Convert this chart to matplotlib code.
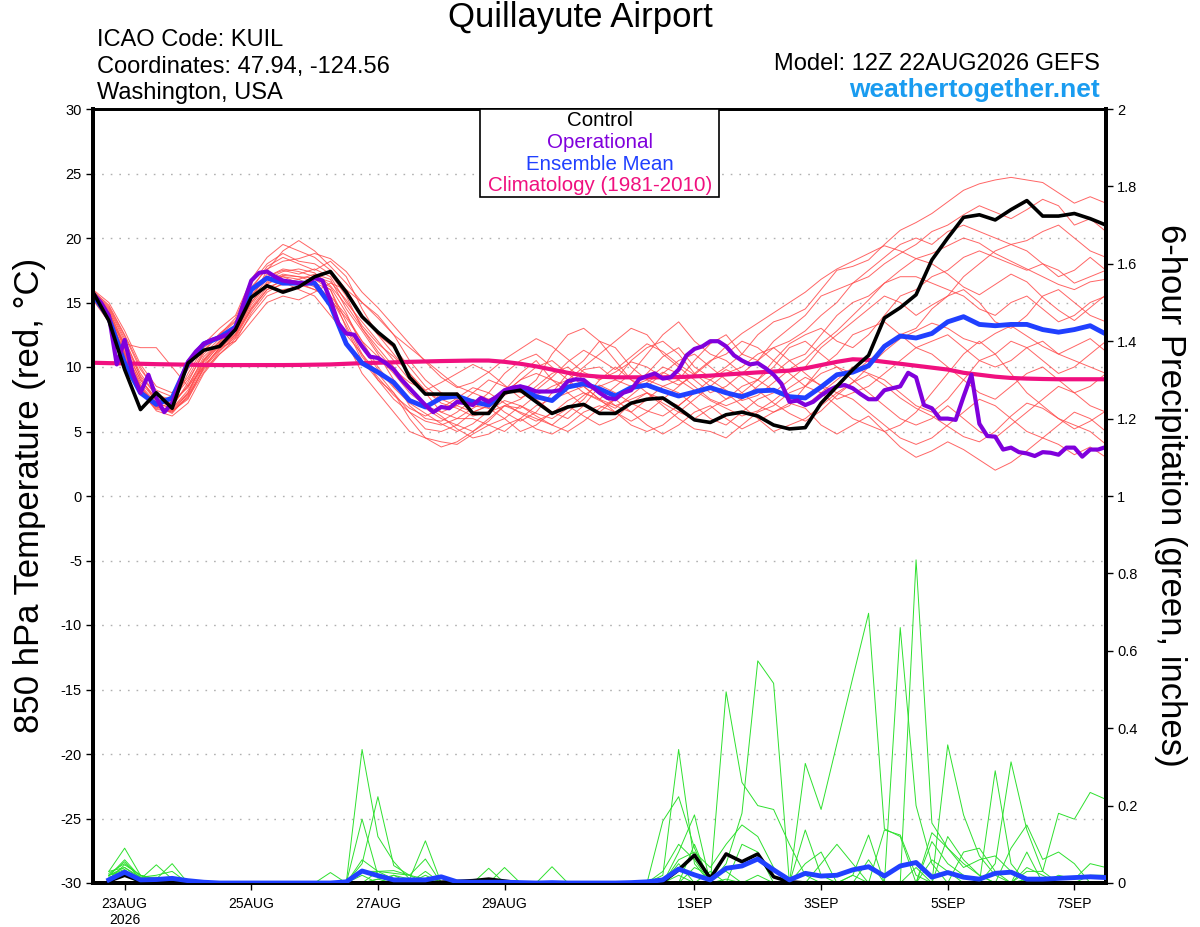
import numpy as np
import matplotlib
matplotlib.use('Agg')
import matplotlib.pyplot as plt
from matplotlib.patches import Rectangle

plt.rcParams['font.family'] = ['Liberation Sans', 'DejaVu Sans']
plt.rcParams['axes.unicode_minus'] = False

# hours after 12Z 22AUG2026, 6-hourly for ensemble, 3-hourly for operational
hours = np.arange(65) * 6
op_hours = np.arange(129) * 3
tick_hours = [12, 60, 108, 156, 228, 276, 324, 372]
tick_labels = ['23AUG\n2026', '25AUG', '27AUG', '29AUG', '1SEP', '3SEP', '5SEP', '7SEP']

# 850 hPa temperature (C)
control = [15.8, 13.6, 9.8, 6.7, 8.0, 6.8, 10.3, 11.3, 11.6, 12.9, 15.4, 16.3, 15.8, 16.2, 17.0, 17.4,
           15.8, 13.9, 12.7, 11.7, 9.2, 7.9, 7.9,
           7.9, 6.4, 6.4, 8.0, 8.2, 7.3, 6.4, 6.9, 7.1, 6.4, 6.4, 7.2, 7.5, 7.6, 6.8, 5.9, 5.7, 6.3,
           6.5, 6.2, 5.5, 5.2,
           5.3, 7.2, 8.5, 9.8, 10.9, 13.8, 14.6, 15.6, 18.3, 20.0, 21.6, 21.8, 21.4, 22.2, 22.9, 21.7,
           21.7, 21.9, 21.5, 21.0]

ens_mean = [15.6, 13.8, 10.3, 8.0, 7.1, 7.6, 10.3, 11.8, 12.3, 13.1, 16.0, 16.9, 16.5, 16.5, 16.5, 14.8,
            11.8, 10.3, 9.6, 8.8, 7.4, 6.9, 7.6,
            7.75, 7.3, 7.05, 8.06, 8.45, 7.7, 7.4, 8.45, 8.7, 8.3, 7.75, 8.4, 8.6, 8.15, 7.75, 8.06,
            8.4, 8.0, 7.7, 8.15, 8.2, 7.7,
            7.6, 8.45, 9.4, 9.6, 10.1, 11.6, 12.4, 12.25, 12.6, 13.5, 13.9, 13.3, 13.2, 13.3, 13.3,
            12.9, 12.7, 12.9, 13.2, 12.55]

climo = [10.33, 10.3, 10.28, 10.25, 10.22, 10.2, 10.18, 10.16, 10.15, 10.15, 10.15,
         10.15, 10.15, 10.16, 10.18, 10.2, 10.25, 10.3, 10.33, 10.36, 10.4, 10.43,
         10.46, 10.48, 10.5, 10.5, 10.4, 10.25, 10.05, 9.8, 9.55, 9.35, 9.25,
         9.2, 9.2, 9.2, 9.2, 9.22, 9.27, 9.33, 9.42, 9.5, 9.58, 9.65,
         9.72, 9.9, 10.15, 10.4, 10.6, 10.55, 10.4, 10.25, 10.1, 9.95, 9.8,
         9.55, 9.4, 9.25, 9.15, 9.1, 9.07, 9.05, 9.05, 9.05, 9.05]

operational = [15.7, 15.0, 14.0, 10.2, 12.1, 9.5, 8.0, 9.4, 7.6, 6.5, 7.2, 8.9, 10.4, 11.2, 11.8,
               12.1, 12.3, 12.5, 13.0, 14.9, 16.7, 17.3, 17.4, 17.0, 16.7, 16.6, 16.5, 16.5, 16.9,
               16.7, 15.2, 13.4, 12.6, 12.5, 11.6, 10.8, 10.7, 10.3, 9.8, 9.0, 8.35, 7.7, 7.05, 6.5,
               6.9,
               6.8, 7.3, 7.2, 7.05, 7.6, 7.3, 7.7, 8.2, 8.4, 8.5, 8.35, 8.1, 8.1, 8.1, 8.2, 8.9, 9.05,
               9.0, 8.5, 8.0, 7.6, 7.5, 8.0, 8.2, 9.05, 9.3, 9.5, 9.1, 9.2, 9.8, 10.9, 11.4, 11.6,
               12.0, 12.0, 11.6, 10.9, 10.5, 10.2, 10.3, 9.9, 9.4, 8.7, 7.3,
               7.4, 7.05, 7.3, 7.8, 8.2, 8.5, 8.6, 8.35, 7.9, 7.5, 7.5, 8.2, 8.35, 8.5, 9.55, 9.2,
               7.05, 6.8, 6.0, 6.0, 5.9, 7.7, 9.4, 5.6, 4.65, 4.6, 3.6, 3.75, 3.4, 3.3, 3.1, 3.4,
               3.35, 3.2, 3.75, 3.75, 3.05, 3.6, 3.6, 3.8]

# ensemble members
m1 = [15.6, 14.2, 11.5, 9.0, 7.5, 7.2, 8.5, 10.8, 12.0, 13.0, 15.5, 17.0, 17.5, 17.2, 17.6, 17.0,
      15.0, 13.5, 12.0, 10.5, 9.0, 8.0, 7.5, 8.0, 7.0, 6.8, 8.2, 9.5, 10.5, 9.0, 8.5, 9.8, 10.0,
      9.0, 8.5, 9.5, 10.8, 11.5, 10.0, 9.2, 10.0, 11.0, 12.5, 13.5, 13.9, 14.5, 16.0, 17.5, 17.8,
      18.3, 19.5, 20.6, 21.2, 21.9, 22.8, 23.7, 24.2, 24.5, 24.7, 24.5, 24.3, 23.5, 22.7, 23.2, 22.7]
m2 = [15.9, 14.8, 12.5, 10.0, 8.0, 7.0, 9.5, 11.5, 12.5, 13.5, 16.0, 17.8, 18.5, 18.0, 17.5, 18.2,
      17.0, 14.5, 12.5, 11.0, 9.5, 8.0, 6.5, 6.0, 6.8, 7.5, 6.5, 5.8, 6.5, 8.0, 9.5, 10.5, 12.0,
      11.5, 10.0, 9.0, 8.5, 9.0, 10.5, 11.8, 12.5, 11.0, 10.5, 11.5, 12.0, 12.8, 14.0, 15.0, 16.5,
      17.0, 18.0, 18.8, 19.5, 20.5, 21.0, 21.8, 22.5, 22.0, 21.5, 22.2, 23.0, 22.5, 21.0, 21.5, 20.5]
m3 = [15.5, 14.0, 11.0, 8.5, 7.0, 6.6, 7.5, 10.0, 11.5, 12.5, 14.5, 16.0, 16.8, 16.5, 16.8, 16.0,
      13.0, 10.5, 9.0, 8.0, 6.5, 5.2, 5.0, 5.5, 6.5, 7.0, 7.8, 8.5, 7.5, 6.5, 6.0, 7.0, 8.5,
      9.0, 10.5, 11.5, 12.0, 11.0, 9.5, 8.5, 7.5, 8.0, 9.0, 10.5, 11.8, 12.5, 13.0, 12.0, 11.5,
      12.5, 14.0, 15.5, 16.0, 17.0, 17.5, 18.5, 19.0, 18.5, 18.0, 17.5, 18.0, 17.5, 16.5, 17.0, 17.5]
m4 = [15.2, 13.5, 10.5, 8.0, 6.8, 6.5, 8.0, 10.5, 11.8, 12.8, 15.0, 16.5, 17.0, 16.8, 16.2, 15.0,
      12.0, 9.5, 8.0, 6.5, 5.0, 4.5, 4.2, 4.0, 4.8, 5.5, 6.0, 7.0, 6.2, 5.5, 5.0, 5.8, 6.8,
      7.5, 6.5, 5.5, 4.8, 5.5, 6.5, 7.0, 6.0, 5.2, 5.8, 6.5, 7.2, 6.8, 5.5, 4.8, 5.5,
      6.2, 5.0, 3.8, 3.0, 3.5, 4.2, 3.6, 2.8, 2.0, 2.6, 3.5, 4.5, 4.0, 3.2, 3.8, 3.0]
m5 = [15.7, 14.5, 12.0, 9.5, 7.8, 7.5, 9.0, 11.0, 12.2, 13.2, 15.8, 17.2, 17.0, 16.5, 16.0, 15.5,
      14.0, 12.0, 10.0, 8.5, 7.5, 6.8, 6.0, 5.5, 5.0, 5.8, 7.0, 7.5, 8.5, 9.5, 10.0, 9.0, 8.0,
      7.0, 6.5, 7.5, 8.5, 8.0, 7.0, 6.0, 5.5, 6.5, 7.5, 8.0, 9.0, 10.0, 11.5, 12.5, 13.5,
      14.5, 15.5, 15.0, 14.0, 14.8, 15.5, 16.0, 15.0, 13.5, 13.0, 14.0, 15.5, 16.0, 15.0, 14.0, 13.5]
m6 = [15.4, 13.8, 11.8, 11.5, 11.5, 10.0, 8.5, 10.0, 11.5, 12.0, 13.5, 15.0, 15.5, 15.2, 15.8, 16.5,
      16.0, 15.0, 14.0, 12.5, 11.5, 10.5, 9.5, 8.5, 8.0, 7.5, 8.0, 9.0, 10.0, 10.5, 9.5, 8.5, 7.5,
      7.0, 7.5, 8.0, 7.2, 6.5, 6.0, 6.8, 7.5, 8.5, 9.0, 8.2, 7.5, 7.0, 8.0, 9.0, 10.0,
      9.5, 9.0, 8.0, 7.0, 6.5, 7.5, 9.0, 10.5, 11.0, 12.0, 11.5, 10.5, 9.5, 10.0, 11.0, 12.0]
m7 = [15.8, 14.6, 12.2, 9.2, 7.2, 6.8, 8.2, 10.2, 11.8, 12.8, 15.2, 17.5, 19.0, 19.8, 19.0, 17.8,
      16.5, 15.0, 13.8, 12.5, 10.5, 9.0, 8.0, 7.5, 7.0, 8.0, 9.5, 10.5, 11.0, 10.0, 9.0, 8.0, 7.5,
      8.5, 9.5, 11.0, 12.5, 13.5, 12.0, 11.0, 10.5, 9.5, 9.0, 10.0, 11.5, 12.0, 11.0, 10.0, 9.5,
      10.5, 11.5, 12.5, 13.0, 14.5, 15.5, 17.0, 18.0, 19.0, 19.5, 19.0, 18.0, 17.0, 17.5, 18.5, 17.5]
m8 = [15.3, 13.5, 10.8, 8.2, 6.6, 6.2, 7.2, 9.5, 11.0, 12.0, 14.2, 15.8, 16.5, 16.8, 17.2, 16.8,
      14.5, 12.8, 11.0, 9.0, 7.0, 6.0, 5.8, 6.5, 7.5, 6.8, 6.0, 5.0, 5.5, 6.5, 7.0, 6.2, 5.5,
      6.0, 7.2, 8.0, 7.0, 6.0, 5.2, 5.0, 4.5, 5.5, 6.5, 7.0, 8.0, 8.5, 9.5, 10.0, 9.0,
      8.0, 7.0, 6.0, 5.5, 6.0, 7.0, 6.0, 5.0, 4.5, 5.5, 6.5, 7.5, 8.5, 8.0, 7.0, 6.5]
m9 = [15.6, 14.0, 11.2, 8.8, 7.4, 6.9, 8.8, 11.2, 12.5, 13.8, 16.5, 18.0, 18.8, 18.2, 18.0, 17.2,
      15.5, 13.0, 11.5, 10.0, 8.5, 7.0, 6.5, 7.0, 8.0, 9.0, 8.5, 8.0, 9.0, 11.0, 12.5, 13.0, 12.0,
      10.5, 9.0, 8.5, 9.5, 10.5, 11.0, 10.0, 9.0, 8.0, 7.0, 6.5, 7.0, 8.5, 10.0, 11.0, 12.5,
      13.0, 13.5, 12.5, 11.5, 11.0, 10.0, 9.0, 8.0, 7.5, 8.5, 9.5, 10.0, 9.0, 8.0, 8.5, 9.5]
m10 = [15.5, 13.8, 11.0, 8.5, 7.0, 6.4, 7.8, 9.8, 11.0, 12.2, 14.0, 15.5, 16.0, 16.2, 16.5, 16.0,
       13.5, 11.0, 9.5, 8.0, 6.0, 4.5, 3.8, 4.2, 5.0, 6.0, 7.0, 6.5, 6.0, 5.5, 6.5, 7.5, 9.0,
       10.0, 9.0, 8.0, 7.5, 7.0, 8.0, 8.5, 8.0, 7.0, 6.0, 5.0, 5.5, 6.0, 7.0, 8.0, 7.5,
       6.5, 5.5, 4.5, 4.0, 4.5, 5.5, 6.5, 7.5, 7.0, 6.0, 5.0, 4.5, 5.5, 6.5, 6.0, 5.0]
m11 = [16.0, 15.0, 12.8, 10.2, 8.5, 8.0, 9.8, 11.8, 13.0, 14.0, 16.8, 18.5, 19.5, 19.0, 18.5, 17.5,
       16.0, 14.0, 12.5, 11.5, 10.0, 8.5, 7.5, 7.0, 6.5, 7.0, 8.0, 9.0, 9.5, 9.0, 8.0, 7.0, 6.5,
       7.5, 8.5, 9.0, 10.0, 9.5, 8.5, 7.5, 7.0, 7.5, 8.5, 9.5, 10.5, 11.0, 12.5, 14.0, 15.0,
       15.5, 16.5, 17.0, 17.0, 16.5, 16.0, 15.5, 14.5, 14.0, 15.0, 15.5, 14.5, 13.5, 14.0, 15.0, 15.5]
m12 = [15.4, 13.6, 10.6, 8.0, 6.7, 6.6, 7.6, 9.6, 11.2, 12.4, 14.6, 16.2, 16.6, 16.0, 15.5, 14.0,
       12.5, 11.0, 9.0, 7.5, 6.5, 5.8, 5.5, 6.0, 6.0, 5.5, 5.0, 6.0, 7.0, 7.5, 8.0, 8.5, 7.5,
       6.5, 5.5, 5.0, 5.5, 6.5, 7.5, 8.5, 9.5, 10.0, 11.0, 11.5, 10.5, 9.5, 8.5, 7.5, 8.0,
       8.5, 9.5, 10.5, 11.5, 12.0, 12.5, 11.5, 10.5, 10.0, 10.5, 11.5, 12.0, 11.0, 10.5, 10.0, 9.5]
m13 = [15.8, 14.4, 11.6, 9.0, 7.6, 7.0, 8.6, 10.6, 12.0, 13.2, 15.6, 17.0, 17.6, 17.4, 17.0, 16.6,
       15.2, 13.2, 11.8, 10.8, 9.5, 8.2, 7.2, 6.8, 6.2, 6.5, 7.0, 6.8, 7.8, 8.5, 9.0, 10.0, 11.0,
       12.0, 13.0, 12.5, 11.0, 10.0, 9.0, 8.0, 8.5, 9.5, 10.5, 12.0, 13.0, 14.0, 15.5, 16.0, 16.5,
       17.5, 18.5, 19.5, 20.0, 19.5, 20.5, 21.0, 20.5, 20.0, 19.5, 19.8, 20.5, 21.0, 20.0, 19.0, 18.5]
m14 = [15.6, 14.2, 11.4, 8.6, 7.2, 6.8, 8.0, 10.4, 11.6, 12.6, 15.0, 16.6, 17.2, 17.0, 16.6, 15.2,
       13.8, 12.0, 10.8, 9.5, 8.0, 7.0, 6.2, 5.2, 4.5, 4.8, 5.5, 6.0, 5.2, 4.8, 5.5, 6.5, 7.0,
       6.5, 5.8, 6.5, 7.5, 8.5, 9.5, 10.5, 11.0, 12.0, 11.5, 10.5, 9.5, 8.5, 8.0, 7.0, 6.0,
       5.5, 5.0, 5.5, 6.5, 8.0, 9.5, 11.0, 12.0, 11.0, 9.5, 8.0, 7.0, 6.0, 5.5, 5.0, 4.0]
m15 = [15.7, 14.3, 11.8, 9.3, 7.8, 7.3, 8.4, 10.5, 11.9, 13.0, 15.3, 16.8, 17.4, 17.6, 17.3, 16.3,
       14.8, 13.0, 11.2, 9.8, 8.8, 8.2, 8.8, 9.5, 10.2, 9.6, 8.6, 7.6, 8.2, 9.2, 10.4, 11.3, 10.6,
       9.8, 10.8, 11.8, 11.2, 10.2, 9.4, 9.0, 8.2, 7.4, 7.8, 8.8, 9.8, 10.6, 11.8, 12.8, 14.0,
       15.2, 16.5, 17.5, 18.4, 18.0, 17.2, 16.2, 15.6, 16.4, 17.2, 16.6, 15.4, 14.4, 13.6, 14.6, 15.6]
m16 = [15.3, 13.7, 10.9, 8.3, 6.9, 6.7, 7.9, 10.1, 11.4, 12.5, 14.8, 16.4, 17.1, 17.0, 16.9, 16.2,
       14.2, 11.6, 9.8, 8.4, 7.2, 6.4, 5.6, 5.0, 5.6, 6.6, 7.4, 7.0, 6.4, 6.0, 6.8, 7.8, 8.6,
       8.0, 7.2, 6.6, 6.2, 7.0, 8.0, 9.0, 9.8, 9.2, 8.2, 7.2, 6.4, 5.8, 6.6, 7.8, 8.8,
       9.4, 8.6, 7.6, 6.8, 6.2, 5.4, 4.6, 4.2, 5.0, 6.2, 7.2, 6.8, 6.0, 5.2, 5.8, 6.6]
m17 = [15.9, 14.7, 12.4, 9.8, 8.2, 7.7, 9.2, 11.3, 12.6, 13.6, 16.2, 17.6, 18.2, 18.4, 18.8, 18.4,
       17.4, 15.8, 14.6, 13.2, 11.8, 10.4, 9.2, 8.4, 8.8, 9.6, 10.6, 11.4, 12.2, 11.6, 10.6, 9.6, 9.0,
       9.6, 10.4, 10.0, 9.2, 8.6, 9.4, 10.4, 11.6, 12.6, 13.4, 14.2, 15.0, 15.8, 16.8, 17.6, 18.2,
       18.8, 19.4, 19.0, 18.4, 18.8, 19.4, 20.0, 19.6, 18.8, 18.2, 17.6, 17.0, 16.4, 16.0, 16.6, 16.8]
m18 = [15.5, 13.9, 11.1, 8.4, 6.9, 6.5, 7.7, 9.9, 11.3, 12.3, 14.4, 16.0, 16.4, 16.4, 16.0, 15.4,
       13.2, 10.8, 9.2, 7.8, 6.8, 6.2, 6.8, 7.6, 8.4, 8.0, 7.2, 6.4, 5.8, 6.4, 7.4, 8.0, 7.4,
       6.8, 7.8, 8.8, 9.6, 9.0, 8.2, 7.4, 6.8, 6.2, 6.6, 7.4, 8.4, 9.2, 8.6, 8.0, 8.8,
       10.0, 11.2, 12.2, 12.8, 13.4, 13.0, 12.2, 11.8, 12.6, 13.2, 12.4, 11.6, 11.0, 11.6, 12.2, 11.2]
members_t = [m1, m2, m3, m4, m5, m6, m7, m8, m9, m10, m11, m12, m13, m14, m15, m16, m17, m18]

# 6-hour precipitation (inches), valid from +6h to +384h
precip_mean = [0.008, 0.028, 0.008, 0.009, 0.012, 0.006, 0.002, 0,
               0, 0, 0, 0, 0, 0, 0, 0.003,
               0.031, 0.019, 0.008, 0.008, 0.008, 0.016, 0.003, 0.002,
               0.002, 0.002, 0.001, 0, 0.001, 0, 0, 0,
               0, 0.001, 0.003, 0.008, 0.036, 0.021, 0.008, 0.038,
               0.044, 0.062, 0.034, 0.008, 0.025, 0.018, 0.020, 0.034,
               0.042, 0.018, 0.044, 0.053, 0.015, 0.027, 0.015, 0.010,
               0.025, 0.028, 0.010, 0.010, 0.012, 0.014, 0.016, 0.014]
precip_control = [0.005, 0.02, 0.005, 0.003, 0.002, 0, 0, 0,
                  0, 0, 0, 0, 0, 0, 0, 0,
                  0, 0, 0, 0, 0, 0.002, 0.004, 0.006,
                  0.01, 0.005, 0, 0, 0, 0, 0, 0,
                  0, 0, 0, 0.003, 0.034, 0.072, 0.012, 0.075,
                  0.055, 0.075, 0.016, 0.003, 0, 0, 0, 0,
                  0, 0, 0, 0, 0, 0, 0, 0,
                  0, 0, 0, 0, 0, 0, 0, 0]
g1 = [0.03, 0.09, 0.02, 0.01, 0, 0, 0, 0,
      0, 0, 0, 0, 0, 0, 0, 0,
      0.345, 0.12, 0.055, 0.01, 0, 0, 0, 0,
      0, 0, 0, 0, 0, 0, 0, 0,
      0, 0, 0, 0.02, 0.345, 0.05, 0, 0.01,
      0, 0.02, 0, 0, 0.137, 0.02, 0, 0,
      0, 0, 0, 0.835, 0.155, 0.09, 0.05, 0.02,
      0, 0, 0.01, 0, 0, 0, 0, 0]
g2 = [0.02, 0.055, 0.01, 0.047, 0.01, 0, 0, 0,
      0, 0, 0, 0, 0, 0, 0, 0,
      0.05, 0.223, 0.045, 0.02, 0.01, 0, 0, 0,
      0.038, 0, 0, 0, 0, 0, 0, 0,
      0, 0, 0, 0.16, 0.223, 0.09, 0, 0,
      0, 0, 0, 0, 0.309, 0.19, 0.36, 0.53,
      0.697, 0.14, 0.12, 0, 0, 0, 0, 0,
      0, 0, 0, 0, 0, 0, 0, 0]
g3 = [0.01, 0.047, 0.02, 0.01, 0.05, 0, 0, 0,
      0, 0, 0, 0, 0, 0, 0, 0,
      0.165, 0.02, 0, 0.01, 0.109, 0, 0, 0,
      0, 0, 0, 0, 0.042, 0, 0, 0,
      0, 0, 0, 0, 0.08, 0.176, 0, 0.494,
      0.26, 0.2, 0.19, 0.1, 0.02, 0, 0, 0,
      0, 0, 0.66, 0.2, 0.05, 0, 0, 0,
      0, 0, 0, 0, 0, 0, 0, 0]
g4 = [0.02, 0.03, 0.01, 0, 0, 0, 0, 0,
      0, 0, 0, 0, 0, 0, 0, 0,
      0, 0.03, 0.032, 0.02, 0.062, 0, 0, 0,
      0, 0, 0, 0, 0, 0, 0, 0,
      0, 0, 0, 0, 0.02, 0, 0, 0.05,
      0.18, 0.574, 0.516, 0, 0, 0, 0, 0.02,
      0.124, 0, 0, 0, 0, 0.357, 0.176, 0.07,
      0.02, 0, 0, 0, 0, 0, 0, 0]
g5 = [0.03, 0.04, 0.015, 0.02, 0.03, 0, 0, 0,
      0, 0, 0, 0, 0, 0, 0.027, 0,
      0, 0, 0.02, 0.01, 0, 0, 0, 0,
      0, 0, 0, 0, 0, 0, 0, 0,
      0, 0, 0, 0, 0.05, 0, 0, 0,
      0, 0, 0, 0, 0, 0, 0, 0.02,
      0, 0.137, 0.124, 0.02, 0, 0, 0, 0,
      0.29, 0.05, 0, 0, 0, 0, 0, 0]
g6 = [0.01, 0.03, 0, 0, 0, 0, 0, 0,
      0, 0, 0, 0, 0, 0, 0, 0,
      0.03, 0.03, 0.025, 0.02, 0, 0, 0, 0,
      0, 0.04, 0, 0, 0, 0, 0, 0,
      0, 0, 0, 0, 0, 0, 0, 0,
      0, 0, 0, 0, 0, 0, 0, 0,
      0, 0, 0, 0, 0.107, 0.05, 0.02, 0,
      0.05, 0.313, 0.137, 0.03, 0, 0, 0, 0]
g7 = [0.02, 0.035, 0, 0, 0, 0, 0, 0,
      0, 0, 0, 0, 0, 0, 0, 0,
      0.02, 0, 0, 0, 0, 0, 0, 0,
      0, 0, 0, 0, 0, 0, 0, 0,
      0, 0, 0, 0, 0, 0, 0, 0,
      0, 0, 0, 0, 0, 0.05, 0.1, 0.05,
      0, 0, 0, 0, 0, 0, 0, 0,
      0, 0, 0.03, 0.03, 0.18, 0.165, 0.234, 0.216]
g8 = [0.015, 0.025, 0.01, 0, 0, 0, 0, 0,
      0, 0, 0, 0, 0, 0, 0, 0,
      0, 0, 0, 0, 0.02, 0, 0, 0,
      0, 0, 0, 0, 0, 0, 0, 0,
      0, 0, 0, 0, 0, 0.1, 0, 0,
      0, 0, 0, 0, 0, 0, 0, 0,
      0, 0, 0, 0, 0, 0, 0, 0,
      0, 0.09, 0.15, 0.061, 0.08, 0.05, 0, 0]
g9 = [0.025, 0.05, 0.02, 0, 0, 0, 0, 0,
      0, 0, 0, 0, 0, 0, 0, 0,
      0, 0.01, 0.02, 0, 0, 0, 0, 0,
      0, 0, 0, 0, 0, 0, 0, 0,
      0, 0, 0, 0, 0.06, 0.08, 0.04, 0.1,
      0.15, 0.12, 0.04, 0, 0, 0, 0, 0,
      0.06, 0, 0, 0, 0.06, 0.03, 0, 0,
      0, 0, 0.04, 0.02, 0, 0, 0, 0]
g10 = [0.02, 0.04, 0.01, 0, 0, 0, 0, 0,
       0, 0, 0, 0, 0, 0, 0, 0,
       0, 0, 0, 0, 0.01, 0, 0, 0,
       0, 0, 0, 0, 0, 0, 0, 0,
       0, 0, 0, 0.03, 0.1, 0.06, 0, 0,
       0.1, 0.08, 0, 0, 0, 0, 0, 0,
       0, 0, 0, 0.04, 0, 0.12, 0.06, 0.02,
       0, 0, 0.08, 0, 0, 0, 0, 0]
g11 = [0.01, 0.02, 0, 0, 0, 0, 0, 0,
       0, 0, 0, 0, 0, 0, 0, 0,
       0, 0.01, 0, 0, 0, 0, 0, 0,
       0, 0, 0, 0, 0, 0, 0, 0,
       0, 0, 0, 0, 0, 0.04, 0.02, 0.03,
       0, 0, 0, 0, 0.05, 0.08, 0, 0,
       0, 0, 0, 0, 0, 0, 0.08, 0.09,
       0.03, 0, 0, 0, 0, 0, 0.02, 0.02]
g12 = [0.018, 0.06, 0.015, 0.015, 0.01, 0, 0, 0,
       0, 0, 0, 0, 0, 0, 0, 0,
       0.06, 0.03, 0.01, 0, 0.03, 0, 0, 0,
       0, 0, 0, 0, 0, 0, 0, 0,
       0, 0, 0, 0, 0, 0, 0.03, 0,
       0, 0, 0, 0, 0, 0, 0, 0,
       0, 0, 0, 0, 0.13, 0.09, 0.04, 0.06,
       0.07, 0.03, 0, 0, 0.02, 0.01, 0.05, 0.04]
members_p = [g1, g2, g3, g4, g5, g6, g7, g8, g9, g10, g11, g12]

W, H = 1200, 927
fig = plt.figure(figsize=(W / 100, H / 100), dpi=100)
fig.patch.set_facecolor('white')
ax = fig.add_axes([93 / W, 44 / H, 1013 / W, 774 / H])
ax2 = ax.twinx()

# temperature
for y in range(-25, 30, 5):
    ax.axhline(y, color='#b0b0b0', lw=1.0, ls=(0, (1.2, 5)), zorder=0)
for m in members_t:
    ax.plot(hours, m, color='#ff4a4a', lw=0.7, alpha=0.85, zorder=1)
ax.plot(hours, climo, color='#f0107f', lw=3, zorder=3)
ax.plot(hours, ens_mean, color='#2040ff', lw=3.5, zorder=4)
ax.plot(op_hours, operational, color='#8000dc', lw=3, zorder=5)
ax.plot(hours, control, color='black', lw=2.6, zorder=6)

ax.set_xlim(0, 384)
ax.set_ylim(-30, 30)
ax.set_yticks(range(-30, 31, 5))
ax.set_xticks(tick_hours)
ax.set_xticklabels(tick_labels)
ax.tick_params(axis='y', direction='out', length=5, width=1, labelsize=10.5, pad=3)
ax.tick_params(axis='x', direction='out', length=5, width=1, labelsize=10, pad=5)

# precipitation
for g in members_p:
    ax2.plot(hours[1:], g, color='#2ee02e', lw=0.7, zorder=1)
ax2.plot(hours[1:], precip_control, color='black', lw=2.6, zorder=3)
ax2.plot(hours[1:], precip_mean, color='#2040ff', lw=3.5, zorder=4)
ax2.set_ylim(0, 2)
ax2.set_xlim(0, 384)
p_ticks = [0, 0.2, 0.4, 0.6, 0.8, 1, 1.2, 1.4, 1.6, 1.8, 2]
ax2.set_yticks(p_ticks)
ax2.set_yticklabels(['0', '0.2', '0.4', '0.6', '0.8', '1', '1.2', '1.4', '1.6', '1.8', '2'])
ax2.tick_params(axis='y', direction='out', length=5, width=1, labelsize=10.5, pad=3)

for a in (ax, ax2):
    a.spines['left'].set_linewidth(2.8)
    a.spines['bottom'].set_linewidth(2.8)
    a.spines['right'].set_linewidth(2.8)
    a.spines['top'].set_linewidth(2.0)

# axis labels
fig.text(30 / W, 1 - 495 / H, '850 hPa Temperature (red, °C)', rotation=90,
         ha='center', va='center', fontsize=25)
fig.text(1170 / W, 1 - 495 / H, '6-hour Precipitation (green, inches)', rotation=270,
         ha='center', va='center', fontsize=25)

# header
fig.text(580 / W, 1 - 18 / H, 'Quillayute Airport', ha='center', va='center', fontsize=25)
fig.text(97 / W, 1 - 40 / H, 'ICAO Code: KUIL', va='center', fontsize=17)
fig.text(97 / W, 1 - 67 / H, 'Coordinates: 47.94, -124.56', va='center', fontsize=17)
fig.text(97 / W, 1 - 93 / H, 'Washington, USA', va='center', fontsize=17)
fig.text(1100 / W, 1 - 64 / H, 'Model: 12Z 22AUG2026 GEFS', ha='right', va='center', fontsize=17)
fig.text(1100 / W, 1 - 90 / H, 'weathertogether.net', ha='right', va='center', fontsize=19,
         fontweight='bold', color='#1a9cf0')

# legend box
fig.patches.append(Rectangle((480 / W, 1 - 197 / H), 239 / W, 88 / H, transform=fig.transFigure,
                             facecolor='white', edgecolor='black', lw=1.2, zorder=10))
legend_items = [('Control', 'black'), ('Operational', '#8000dc'),
                ('Ensemble Mean', '#2040ff'), ('Climatology (1981-2010)', '#f0107f')]
for k, (txt, col) in enumerate(legend_items):
    fig.text(600 / W, 1 - (121 + 21.5 * k) / H, txt, ha='center', va='center',
             fontsize=14.8, color=col, zorder=11)

fig.savefig('out.png', dpi=100, facecolor='white')
